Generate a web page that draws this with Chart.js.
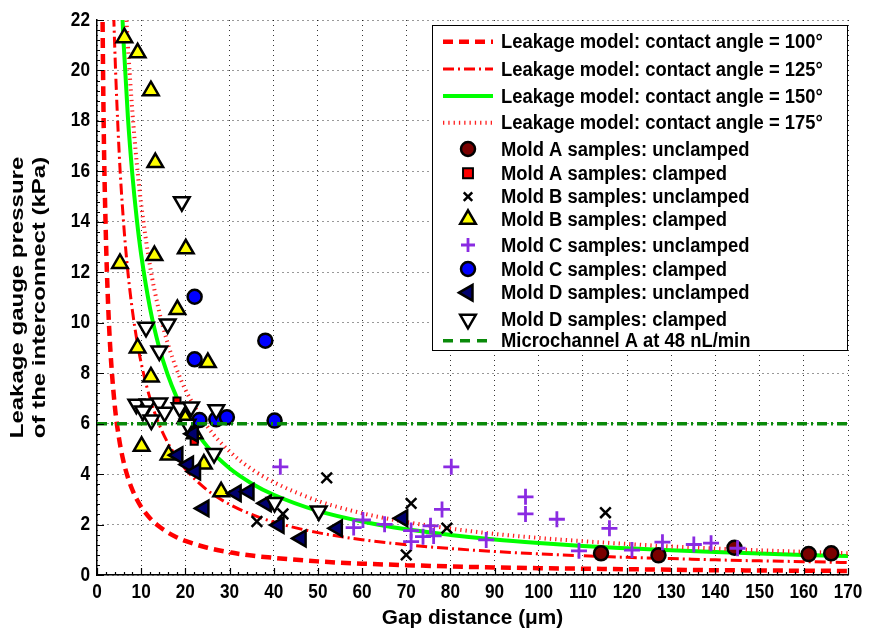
<!DOCTYPE html>
<html>
<head>
<meta charset="utf-8">
<script src="https://cdn.jsdelivr.net/npm/chart.js@4.4.1/dist/chart.umd.min.js"></script>
<style>
html,body{margin:0;padding:0;background:#fff;}
#wrap{width:870px;height:630px;position:relative;}
</style>
</head>
<body>
<div id="wrap"><canvas id="c" width="870" height="630"></canvas></div>
<script>
// ---------- data ----------
const xTicks = [0,10,20,30,40,50,60,70,80,90,100,110,120,130,140,150,160,170];
const yTicks = [0,2,4,6,8,10,12,14,16,18,20,22];

const gap100 = [1,1.5,2,2.5,3,4,5,6,7,8,9,10,12,14,16,18,20,25,30,35,40,50,60,70,80,90,100,110,120,130,140,150,160,170];
const p100   = [27,18,13.5,10.8,9,6.75,5.4,4.5,3.86,3.38,3,2.7,2.25,1.93,1.69,1.5,1.35,1.08,0.9,0.77,0.68,0.54,0.45,0.39,0.34,0.3,0.27,0.25,0.23,0.21,0.19,0.18,0.17,0.16];

const gap125 = [3,3.5,4,5,6,7,8,9,10,12,14,16,18,20,25,30,35,40,50,60,70,80,90,100,110,120,130,140,150,160,170];
const p125   = [28,24,21,16.8,14,12,10.5,9.33,8.4,7,6,5.25,4.67,4.2,3.36,2.8,2.4,2.1,1.68,1.4,1.2,1.05,0.93,0.84,0.76,0.7,0.65,0.6,0.56,0.53,0.49];

const gap150 = [5,5.5,6,7,8,9,10,12,14,16,18,20,25,30,35,40,50,60,70,80,90,100,110,120,130,140,150,160,170];
const p150   = [25.4,23.1,21.17,18.14,15.88,14.11,12.7,10.58,9.07,7.94,7.06,6.35,5.08,4.23,3.63,3.18,2.54,2.12,1.81,1.59,1.41,1.27,1.15,1.06,0.98,0.91,0.85,0.79,0.75];

const gap175 = [6,6.5,7,8,9,10,12,14,16,18,20,25,30,35,40,50,60,70,80,90,100,110,120,130,140,150,160,170];
const p175   = [24.5,22.6,21,18.38,16.33,14.7,12.25,10.5,9.19,8.17,7.35,5.88,4.9,4.2,3.68,2.94,2.45,2.1,1.84,1.63,1.47,1.34,1.23,1.13,1.05,0.98,0.92,0.86];

const moldAUnclampedGap = [114.1,127.1,144.3,161.1,166.2];
const moldAUnclampedP   = [0.86,0.78,1.08,0.83,0.86];

const moldAClampedGap = [18.1,22.0];
const moldAClampedP   = [6.9,5.3];

const moldBUnclampedGap = [36.2,42.1,52.0,70.0,71.1,79.2,115.1];
const moldBUnclampedP   = [2.12,2.42,3.85,0.8,2.84,1.86,2.47];

const moldBClampedGap = [6.2,9.2,12.2,13.2,13.0,20.1,5.2,18.2,9.2,25.1,12.2,10.1,16.2,24.2,28.1,20.0,22.1];
const moldBClampedP   = [21.3,20.7,19.2,16.35,12.66,12.93,12.35,10.52,9.0,8.42,7.85,5.1,4.76,4.4,3.3,6.2,5.6];

const moldCUnclampedGap = [41.5,80.2,78.1,60.2,58.1,65.1,71.1,71.1,73.8,75.5,76.2,97.0,97.0,104.1,88.1,109.1,116.0,121.1,128.0,135.1,139.0,145.0];
const moldCUnclampedP   = [4.29,4.29,2.6,2.18,1.88,2.01,1.76,1.32,1.52,1.95,1.55,3.1,2.42,2.21,1.39,0.96,1.85,0.99,1.3,1.21,1.26,1.06];

const moldCClampedGap = [22.1,38.1,22.1,23.2,27.0,29.4,40.2];
const moldCClampedP   = [11.03,9.29,8.55,6.14,6.17,6.25,6.12];

const moldDUnclampedGap = [18.3,20.7,22.3,21.8,24.2,31.5,34.4,38.3,41.2,46.2,54.4,69.2];
const moldDUnclampedP   = [4.75,4.38,4.1,5.6,2.64,3.24,3.3,2.84,1.98,1.45,1.85,2.25];

const moldDClampedGap = [19.2,11.1,16.0,14.1,8.9,11.5,14.1,10.4,15.3,12.3,18.7,21.3,20.5,27.0,26.5,40.2,50.2];
const moldDClampedP   = [14.8,9.82,9.95,8.88,6.77,6.78,6.82,6.5,6.45,6.14,6.63,6.66,5.98,6.55,4.82,2.87,2.54];

const microGap = [0,170];
const microP   = [6,6];

const labels = [
  'Leakage model: contact angle = 100°',
  'Leakage model: contact angle = 125°',
  'Leakage model: contact angle = 150°',
  'Leakage model: contact angle = 175°',
  'Mold A samples: unclamped',
  'Mold A samples: clamped',
  'Mold B samples: unclamped',
  'Mold B samples: clamped',
  'Mold C samples: unclamped',
  'Mold C samples: clamped',
  'Mold D samples: unclamped',
  'Mold D samples: clamped',
  'Microchannel A at 48 nL/min'
];
const xTitle = 'Gap distance (μm)';
const yTitle = ['Leakage gauge pressure', 'of the interconnect (kPa)'];

// ---------- build ----------
const pts = (xs, ys) => xs.map((x, i) => ({x: x, y: ys[i]}));
const FONT = '"Liberation Sans", Arial, Helvetica, sans-serif';
const SX = 0.92;

function lineDs(label, xs, ys, color, width, dash) {
  return {type:'line', label, data: pts(xs, ys), borderColor: color, borderWidth: width,
    borderDash: dash, pointRadius: 0, fill: false, cubicInterpolationMode: 'monotone',
    borderCapStyle: 'butt', showLine: true};
}
function markDs(label, xs, ys, style, radius, fill, stroke, bw, rot) {
  return {type:'scatter', label, data: pts(xs, ys), pointStyle: style, pointRadius: radius,
    pointHoverRadius: radius, backgroundColor: fill, borderColor: stroke, pointBorderWidth: bw,
    borderWidth: bw, pointRotation: rot || 0, showLine: false};
}

const datasets = [
  lineDs(labels[0], gap100, p100, '#ff0000', 4.5, [10,6]),
  lineDs(labels[1], gap125, p125, '#ff0000', 3, [11,4,2,4]),
  lineDs(labels[2], gap150, p150, '#00ff00', 4, []),
  lineDs(labels[3], gap175, p175, '#ff2020', 4, [1.3,4]),
  markDs(labels[4], moldAUnclampedGap, moldAUnclampedP, 'circle', 7, '#7a0000', '#000', 2.5),
  markDs(labels[5], moldAClampedGap, moldAClampedP, 'rect', 5, '#ff0000', '#000', 2),
  markDs(labels[6], moldBUnclampedGap, moldBUnclampedP, 'crossRot', 7.5, '#000', '#000', 2.5),
  markDs(labels[7], moldBClampedGap, moldBClampedP, 'triangle', 9, '#ffff00', '#000', 2.5),
  markDs(labels[8], moldCUnclampedGap, moldCUnclampedP, 'cross', 8, '#8a2be2', '#8a2be2', 2.8),
  markDs(labels[9], moldCClampedGap, moldCClampedP, 'circle', 7, '#0000ff', '#000', 2.5),
  markDs(labels[10], moldDUnclampedGap, moldDUnclampedP, 'triangle', 9, '#00006e', '#000', 2.5, 270),
  markDs(labels[11], moldDClampedGap, moldDClampedP, 'triangle', 9, '#ffffff', '#000', 2.5, 180),
  lineDs(labels[12], microGap, microP, '#0a8a0a', 3.5, [10,4,2,4])
];
datasets.forEach((d, i) => { d.order = datasets.length - i; });

function drawMarker(ctx, style, r, fill, stroke, bw, rot, x, y) {
  ctx.save();
  ctx.translate(x, y);
  ctx.rotate((rot || 0) * Math.PI / 180);
  ctx.lineWidth = bw; ctx.fillStyle = fill; ctx.strokeStyle = stroke;
  ctx.beginPath();
  if (style === 'circle') { ctx.arc(0, 0, r, 0, Math.PI*2); ctx.fill(); ctx.stroke(); }
  else if (style === 'rect') { const s = r*Math.SQRT1_2*1.4; ctx.rect(-s, -s, 2*s, 2*s); ctx.fill(); ctx.stroke(); }
  else if (style === 'triangle') {
    let a = 0; ctx.moveTo(Math.sin(a)*r, -Math.cos(a)*r);
    a += 2*Math.PI/3; ctx.lineTo(Math.sin(a)*r, -Math.cos(a)*r);
    a += 2*Math.PI/3; ctx.lineTo(Math.sin(a)*r, -Math.cos(a)*r);
    ctx.closePath(); ctx.fill(); ctx.stroke();
  } else if (style === 'cross') { ctx.moveTo(0,-r); ctx.lineTo(0,r); ctx.moveTo(-r,0); ctx.lineTo(r,0); ctx.stroke(); }
  else if (style === 'crossRot') { const s = r*Math.SQRT1_2; ctx.moveTo(-s,-s); ctx.lineTo(s,s); ctx.moveTo(s,-s); ctx.lineTo(-s,s); ctx.stroke(); }
  ctx.restore();
}

function sText(ctx, text, x, y, align, base, sx) {
  ctx.save();
  ctx.translate(x, y);
  ctx.scale(sx, 1);
  ctx.textAlign = align; ctx.textBaseline = base;
  ctx.fillText(text, 0, 0);
  ctx.restore();
}

const decor = {
  id: 'decor',
  afterDraw(chart) {
    const ctx = chart.ctx;
    const xs = chart.scales.x, ys = chart.scales.y;
    const ca = chart.chartArea;
    ctx.save();
    // inward ticks
    ctx.strokeStyle = '#000'; ctx.lineWidth = 1.2;
    ctx.beginPath();
    for (let v = 0; v <= 170.001; v += 2) {
      const px = Math.round(xs.getPixelForValue(v)) + 0.5;
      const len = (Math.abs(v % 10) < 0.01) ? 7 : 3;
      ctx.moveTo(px, ca.bottom); ctx.lineTo(px, ca.bottom - len);
    }
    for (let v = 0; v <= 22.001; v += 0.4) {
      const py = Math.round(ys.getPixelForValue(v)) + 0.5;
      const major = Math.abs(v/2 - Math.round(v/2)) < 0.01;
      ctx.moveTo(ca.left, py); ctx.lineTo(ca.left + (major ? 7 : 3), py);
    }
    ctx.stroke();
    // tick labels
    ctx.fillStyle = '#000';
    ctx.font = 'bold 20px ' + FONT;
    xTicks.forEach(v => sText(ctx, String(v), xs.getPixelForValue(v), ca.bottom + 17, 'center', 'middle', 0.86));
    yTicks.forEach(v => sText(ctx, String(v), ca.left - 7, ys.getPixelForValue(v), 'right', 'middle', 0.86));
    // titles
    ctx.font = 'bold 20px ' + FONT;
    sText(ctx, xTitle, (ca.left + ca.right)/2, 618, 'center', 'middle', 1.04);
    const cy = (ca.top + ca.bottom)/2;
    [[18, yTitle[0]], [40, yTitle[1]]].forEach(([x, t]) => {
      ctx.save();
      ctx.translate(x, cy);
      ctx.rotate(-Math.PI/2);
      ctx.scale(1.2, 0.95);
      ctx.textAlign = 'center'; ctx.textBaseline = 'middle';
      ctx.fillText(t, 0, 0);
      ctx.restore();
    });
    // legend box
    const L = 432.5, T = 25.5, R = 847.5, B = 350.5;
    ctx.fillStyle = '#fff';
    ctx.fillRect(L, T, R - L, B - T);
    ctx.strokeStyle = '#000'; ctx.lineWidth = 1;
    ctx.strokeRect(L, T, R - L, B - T);
    const rowsY = [41.7, 69, 96, 122.7, 149, 173.3, 196.7, 219.3, 245, 269, 292.7, 319.3, 340.7];
    const mx = 468;
    chart.data.datasets.forEach((d, i) => {
      const y = rowsY[i];
      if (d.type === 'line') {
        ctx.save();
        ctx.strokeStyle = d.borderColor; ctx.lineWidth = d.borderWidth;
        ctx.setLineDash(i === 12 ? [10,7] : d.borderDash);
        ctx.lineCap = 'butt';
        ctx.beginPath(); ctx.moveTo(443, y); ctx.lineTo(493, y); ctx.stroke();
        ctx.restore();
      } else {
        let r = d.pointRadius;
        if (d.pointStyle === 'crossRot') r = 6;
        if (d.pointStyle === 'cross') r = 7;
        drawMarker(ctx, d.pointStyle, r, d.backgroundColor, d.borderColor, d.pointBorderWidth, d.pointRotation, mx, y);
      }
      ctx.fillStyle = '#000';
      ctx.font = 'bold 20px ' + FONT;
      sText(ctx, d.label, 501, y + 1, 'left', 'middle', SX);
    });
    ctx.restore();
  }
};

new Chart(document.getElementById('c'), {
  data: { datasets },
  options: {
    responsive: false,
    animation: false,
    events: [],
    layout: { padding: { left: 97, right: 22, top: 20, bottom: 55 } },
    plugins: { legend: { display: false }, tooltip: { enabled: false } },
    scales: {
      x: {
        type: 'linear', min: 0, max: 170,
        ticks: { display: false, stepSize: 10 },
        grid: { color: 'rgba(0,0,0,0.8)', lineWidth: 1, drawTicks: false },
        border: { display: true, color: '#000', width: 1.5, dash: [1,4] }
      },
      y: {
        type: 'linear', min: 0, max: 22,
        ticks: { display: false, stepSize: 2 },
        grid: { color: 'rgba(0,0,0,0.8)', lineWidth: 1, drawTicks: false },
        border: { display: true, color: '#000', width: 1.5, dash: [1,4] }
      }
    }
  },
  plugins: [decor]
});
</script>
</body>
</html>
